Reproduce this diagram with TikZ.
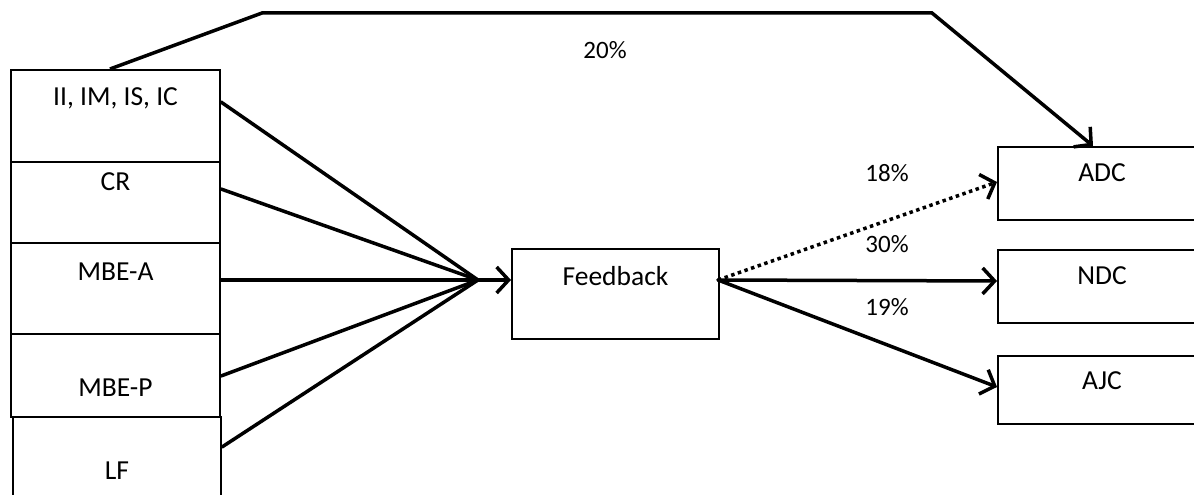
\documentclass[tikz,border=0pt]{standalone}
\usepackage{fontspec}
\setmainfont{Carlito}
\usetikzlibrary{arrows.meta,calc}
\begin{document}
\begin{tikzpicture}[x=1pt,y=-1pt,
  box/.style={draw=black,line width=2pt,rectangle,inner sep=0pt,anchor=north west},
  lbl/.style={font=\fontsize{27.5}{32}\selectfont,anchor=center},
  conn/.style={line width=3.5pt,line cap=round},
  arr/.style={conn,-{Straight Barb[length=12pt,width=26pt,line width=3.5pt]}},
  pct/.style={font=\fontsize{25}{30}\selectfont,anchor=center}]
\useasboundingbox (0,0) rectangle (1194,495);
\clip (0,0) rectangle (1194,495);
\fill[white] (0,0) rectangle (1194,495);
% left stack
\node[box,minimum width=209pt,minimum height=92pt,label={[lbl,yshift=-29pt]north:II, IM, IS, IC}] (b1) at (10,69) {};
\node[box,minimum width=209pt,minimum height=81pt,label={[lbl,yshift=-21pt]north:CR}] (b2) at (10,161) {};
\node[box,minimum width=209pt,minimum height=91pt,label={[lbl,yshift=-30pt]north:MBE-A}] (b3) at (10,242) {};
\node[box,minimum width=209pt,minimum height=83pt,label={[lbl,yshift=-55pt]north:MBE-P}] (b4) at (10,333) {};
\node[box,minimum width=208pt,minimum height=100pt,label={[lbl,yshift=-55pt]north:LF}] (b5) at (12,416) {};
% feedback
\node[box,minimum width=207pt,minimum height=90pt,label={[lbl,yshift=-28pt]north:Feedback}] (fb) at (511,248) {};
% right boxes
\node[box,minimum width=208pt,minimum height=73pt,label={[lbl,yshift=-27pt]north:ADC}] (adc) at (997,146) {};
\node[box,minimum width=208pt,minimum height=73pt,label={[lbl,yshift=-27pt]north:NDC}] (ndc) at (997,249) {};
\node[box,minimum width=208pt,minimum height=68pt,label={[lbl,yshift=-26pt]north:AJC}] (ajc) at (997,355) {};
\coordinate (hub) at (478,280);
% inputs to hub
\draw[conn] (b1.north east) ++(0,33) -- (hub);
\draw[conn] (b2.north east) ++(0,28) -- (hub);
\draw[conn] (b3.north east) ++(0,38) -- (hub);
\draw[conn] (b4.north east) ++(0,43) -- (hub);
\draw[conn] (b5.north east) ++(0,31) -- (hub);
\draw[arr] (hub) -- (fb.west |- hub);
% outputs
\coordinate (fbout) at ($(fb.north west)+(207,32)$);
\draw[arr,line cap=butt,dash pattern=on 3.5pt off 3.5pt] (fbout) -- ($(adc.north west)+(0,36)$);
\draw[arr] (fbout) -- ($(ndc.north west)+(0,32)$);
\draw[arr] (fbout) -- ($(ajc.north west)+(0,32)$);
% top connector
\draw[arr,line cap=butt,line join=miter] ($(b1.north west)+(100,0)$) -- (262,13) -- (932,13) -- ($(adc.north west)+(96,0)$);
% percentages
\node[pct] (p20) at (605,50) {20\%};
\node[pct] (p18) at (887,173) {18\%};
\node[pct] (p30) at (887,244) {30\%};
\node[pct] (p19) at (887,307) {19\%};
\end{tikzpicture}
\end{document}
